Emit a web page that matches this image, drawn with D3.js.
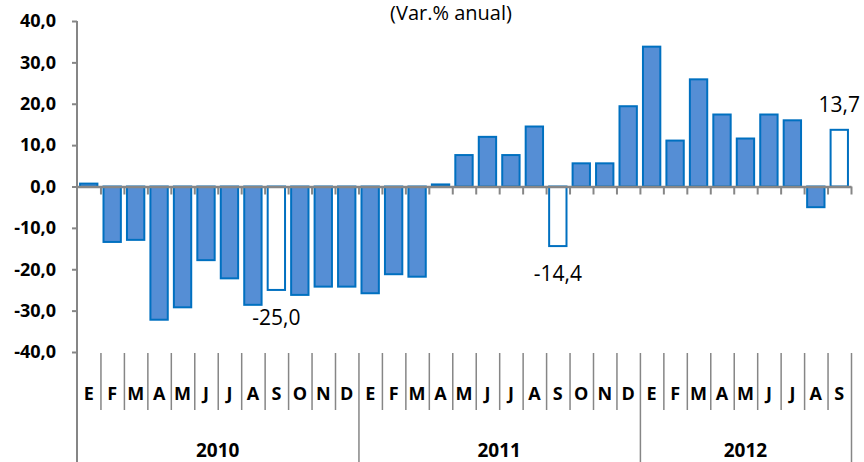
<!DOCTYPE html>
<html lang="es">
<head>
  <meta charset="UTF-8">
  <title>Var.% anual</title>
  <style>
    body { margin: 0; background: #fff; }
    svg { display: block; font-family: "Open Sans", sans-serif; }
  </style>
</head>
<body>
  <svg width="864" height="462"></svg>
  <script src="https://d3js.org/d3.v7.min.js"></script>
  <script>
    // data
    var months = ['E', 'F', 'M', 'A', 'M', 'J', 'J', 'A', 'S', 'O', 'N', 'D',
      'E', 'F', 'M', 'A', 'M', 'J', 'J', 'A', 'S', 'O', 'N', 'D',
      'E', 'F', 'M', 'A', 'M', 'J', 'J', 'A', 'S'];
    var years = ['2010', '2011', '2012'];
    var monthsPerYear = [12, 12, 9];
    var values = [0.7, -13.4, -12.9, -32.2, -29.2, -17.8, -22.2, -28.6, -25.0, -26.2, -24.2, -24.2,
      -25.8, -21.2, -21.8, 0.5, 7.6, 12.0, 7.6, 14.5, -14.4, 5.6, 5.6, 19.4,
      33.8, 11.1, 25.9, 17.4, 11.6, 17.4, 16.0, -5.0, 13.7];
    var highlighted = [8, 20, 32]; // septiembre de cada año
    var yTicks = [-40, -30, -20, -10, 0, 10, 20, 30, 40];
    var title = '(Var.% anual)';

    var width = 864;
    var height = 462;
    var margin = { top: 21, left: 77, right: 13, bottom: 110 };
    var plotRight = width - margin.right;
    var plotBottom = height - margin.bottom;

    var es = d3.formatLocale({ decimal: ',', thousands: '.', grouping: [3], currency: ['', ' €'], minus: '-' });
    var fmt = es.format('.1f');

    var svg = d3.select('svg');
    var axisColor = '#868686';

    // scales
    var idx = d3.range(values.length);
    var x = d3.scaleBand()
      .domain(idx)
      .range([margin.left, plotRight])
      .paddingInner(0.26)
      .paddingOuter(0.13);
    var xEdge = d3.scaleLinear()
      .domain([0, values.length])
      .range([margin.left, plotRight]);
    var y = d3.scaleLinear()
      .domain([-40, 40])
      .range([plotBottom, margin.top]);

    // title
    svg.append('text')
      .attr('x', 451)
      .attr('y', 20)
      .attr('text-anchor', 'middle')
      .style('font-size', '20px')
      .style('fill', '#000')
      .text(title);

    // bars
    svg.append('g')
      .selectAll('rect')
      .data(idx)
      .join('rect')
      .attr('x', i => x(i))
      .attr('width', x.bandwidth())
      .attr('y', i => y(Math.max(0, values[i])))
      .attr('height', i => Math.abs(y(values[i]) - y(0)))
      .style('fill', i => highlighted.includes(i) ? '#fff' : '#558ed5')
      .style('stroke', '#0070c0')
      .style('stroke-width', 2);

    // data labels on highlighted bars
    svg.append('g')
      .selectAll('text')
      .data(highlighted)
      .join('text')
      .attr('x', i => x(i) + x.bandwidth() / 2)
      .attr('y', i => values[i] < 0 ? y(values[i]) + 35 : y(values[i]) - 18)
      .attr('text-anchor', 'middle')
      .style('font-size', '21px')
      .style('fill', '#000')
      .text(i => fmt(values[i]));

    // y axis
    var yAxis = d3.axisLeft(y)
      .tickValues(yTicks)
      .tickSize(5)
      .tickPadding(16)
      .tickFormat(fmt);
    var gy = svg.append('g')
      .attr('transform', 'translate(' + margin.left + ',0)')
      .call(yAxis);
    gy.select('.domain').remove();
    gy.selectAll('line').style('stroke', axisColor).style('stroke-width', 2);
    gy.selectAll('text')
      .style('font-size', '18px')
      .style('font-weight', 'bold')
      .style('fill', '#000')
      .style('font-family', '"Open Sans", sans-serif');

    // left axis line, down through the category table
    svg.append('line')
      .attr('x1', margin.left).attr('x2', margin.left)
      .attr('y1', y(40)).attr('y2', height)
      .style('stroke', axisColor)
      .style('stroke-width', 2);

    // zero line with ticks between categories
    var zeroAxis = d3.axisBottom(xEdge)
      .tickValues(d3.range(1, values.length + 1))
      .tickSize(8)
      .tickSizeOuter(0)
      .tickFormat('');
    var gz = svg.append('g')
      .attr('transform', 'translate(0,' + y(0) + ')')
      .call(zeroAxis);
    gz.select('.domain').style('stroke', axisColor).style('stroke-width', 2.5);
    gz.selectAll('line').style('stroke', axisColor).style('stroke-width', 2);

    // category table: month separators
    var yearEnds = d3.cumsum(monthsPerYear);
    var monthSep = d3.range(1, values.length).filter(i => !yearEnds.includes(i));
    var gm = svg.append('g')
      .attr('transform', 'translate(0,' + (plotBottom + 1) + ')')
      .call(d3.axisBottom(xEdge).tickValues(monthSep).tickSize(57).tickFormat(''));
    gm.select('.domain').remove();
    gm.selectAll('line').style('stroke', axisColor).style('stroke-width', 1.5);

    // year separators
    var gys = svg.append('g')
      .attr('transform', 'translate(0,' + (plotBottom + 1) + ')')
      .call(d3.axisBottom(xEdge).tickValues(Array.from(yearEnds)).tickSize(height - plotBottom).tickFormat(''));
    gys.select('.domain').remove();
    gys.selectAll('line').style('stroke', axisColor).style('stroke-width', 1.5);

    // month labels
    var gl = svg.append('g')
      .attr('transform', 'translate(0,' + (plotBottom + 1) + ')')
      .call(d3.axisBottom(x).tickSize(0).tickPadding(34).tickFormat(i => months[i]));
    gl.select('.domain').remove();
    gl.selectAll('text')
      .style('font-size', '18px')
      .style('font-weight', 'bold')
      .style('fill', '#000')
      .style('font-family', '"Open Sans", sans-serif');

    // year labels
    var yearStarts = [0].concat(Array.from(yearEnds).slice(0, -1));
    svg.append('g')
      .selectAll('text')
      .data(years)
      .join('text')
      .attr('x', (d, k) => (xEdge(yearStarts[k]) + xEdge(yearEnds[k])) / 2)
      .attr('y', 457)
      .attr('text-anchor', 'middle')
      .style('font-size', '19px')
      .style('font-weight', 'bold')
      .style('fill', '#000')
      .text(d => d);
  </script>
</body>
</html>
